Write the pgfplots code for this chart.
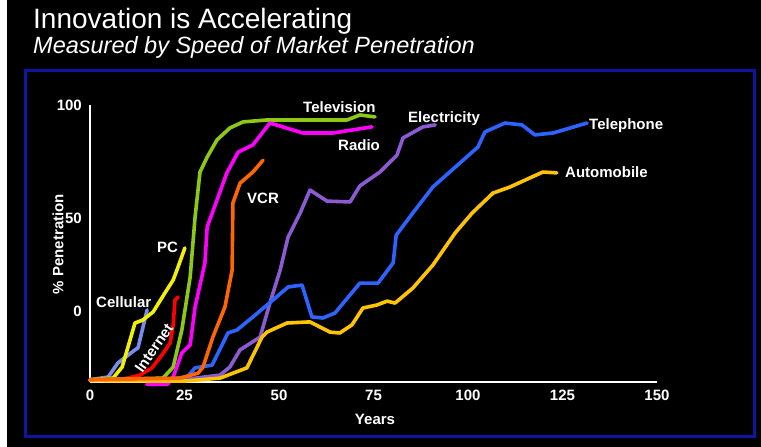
\documentclass[border=0pt]{standalone}
\usepackage{fontspec}
\setmainfont{Liberation Sans}
\usepackage{pgfplots}
\pgfplotsset{compat=1.18}

\definecolor{boxblue}{RGB}{12,22,160}
\definecolor{cCell}{RGB}{120,140,240}
\definecolor{cPC}{RGB}{240,240,0}
\definecolor{cNet}{RGB}{255,0,0}
\definecolor{cTV}{RGB}{140,200,20}
\definecolor{cRadio}{RGB}{255,0,255}
\definecolor{cVCR}{RGB}{255,102,0}
\definecolor{cElec}{RGB}{140,90,210}
\definecolor{cTel}{RGB}{45,100,255}
\definecolor{cAuto}{RGB}{255,195,0}

\begin{document}
\begin{tikzpicture}[x=1pt,y=1pt]
% page background and frame
\fill[black] (0,0) rectangle (761,-447);
\path[use as bounding box] (0,0) rectangle (761,-447);
\fill[white] (0,0) rectangle (7,-447);
\draw[boxblue, line width=3pt] (25,-70.5) rectangle (754,-436);

% titles
\node[anchor=base west, text=white, inner sep=0pt, font=\fontsize{28}{28}\selectfont]
  at (33,-28) {Innovation is Accelerating};
\node[anchor=base west, text=white, inner sep=0pt, font=\itshape\fontsize{23.5}{23.5}\selectfont]
  at (33,-53) {Measured by Speed of Market Penetration};

\begin{axis}[
  at={(90pt,-382pt)}, anchor=south west,
  scale only axis, width=567pt, height=277pt,
  xmin=0, xmax=150, ymin=0, ymax=100,
  axis x line=bottom, axis y line=left,
  axis line style={white, line width=1.5pt, -},
  major tick length=0pt, tick style={draw=none},
  xtick={0,25,50,75,100,125,150},
  xticklabels={0,25,50,75,100,125,150},
  ytick={25.6,59.2,100},
  yticklabels={0,50,100},
  xticklabel style={text=white, font=\bfseries\fontsize{15}{15}\selectfont,
    anchor=north, inner sep=0pt, yshift=-8pt},
  yticklabel style={text=white, font=\bfseries\fontsize{15}{15}\selectfont,
    anchor=east, inner sep=0pt, xshift=-8pt},
  clip=false,
  every axis plot/.append style={line width=3.6pt, line join=round, line cap=round, mark=none},
]
% Cellular
\addplot[cCell] coordinates {(0,0.8) (4.8,1.8) (7.4,6.9) (11.9,11.6) (12.7,12.3) (15.1,26.0)};
% PC
\addplot[cPC] coordinates {(0,0.8) (6.1,1.4) (8.5,5.4) (10.6,15.2) (11.9,21.3) (14.0,22.4)
  (16.7,25.3) (19.8,32.1) (22.0,36.8) (23.0,40.4) (25.1,48.4)};
% Internet
\addplot[cNet] coordinates {(0,0.8) (9.3,1.2) (13.2,2.5) (16.4,5.1) (19.0,9.7) (21.2,14.1)
  (22.0,20.6) (22.5,29.6) (23.3,30.7)};
% Television
\addplot[cTV] coordinates {(0,0.8) (19.3,1.4) (22.0,5.4) (24.3,18.8) (26.5,37.9) (27.8,59.6)
  (29.1,75.8) (31.0,81.2) (33.6,87.4) (37.0,91.7) (40.5,93.9) (46.8,94.6) (68.0,94.6)
  (71.4,96.4) (75.4,95.7)};
% Radio
\addplot[cRadio] coordinates {(15,-0.8) (20.5,-0.8) (22.0,1.8) (24.3,10.5) (26.5,13.4)
  (27.8,27.1) (30.4,43.0) (31.0,56.0) (33.6,65.7) (36.2,75.5) (39.2,83.0) (43.1,85.6)
  (47.6,93.5) (56.3,89.9) (64.3,89.9) (74.6,92.1)};
% Electricity
\addplot[cElec] coordinates {(0,0.7) (23.8,0.7) (34.4,2.5) (37.0,5.4) (39.7,11.6) (45.0,16.2)
  (47.6,28.5) (50.3,40.4) (52.4,52.3) (55.6,61.0) (58.2,69.3) (62.7,65.3) (68.8,65.0)
  (71.4,70.8) (76.7,75.8) (81.2,81.9) (82.8,88.1) (88.1,92.1) (91.3,92.8)};
% Telephone
\addplot[cTel] coordinates {(0,0.7) (20,1.0) (25.7,1.8) (27.8,5.1) (32.3,6.1) (36.5,17.7)
  (38.9,18.8) (43.1,23.5) (48.4,29.6) (52.4,34.3) (56.1,35.0) (58.7,23.5) (61.6,23.1)
  (64.8,24.9) (71.4,35.7) (76.2,35.7) (80.2,43.0) (81.0,53.0) (85.4,61.0) (90.7,70.4)
  (102.6,84.8) (104.5,90.3) (109.8,93.5) (114.3,92.8) (117.7,89.2) (122.5,89.9) (131.5,93.5)};
% Automobile
\addplot[cAuto] coordinates {(0,0.5) (24.6,0.3) (34.4,1.4) (41.5,5.1) (45.5,16.2) (46.8,18.0)
  (52.1,21.3) (58.2,21.7) (63.5,18.0) (66.1,17.7) (69.3,20.6) (72.2,26.7) (75.9,27.8)
  (78.6,29.2) (80.7,28.5) (85.4,33.9) (90.7,42.2) (96.6,53.8) (101.1,61.0) (106.6,68.2)
  (111.1,70.4) (119.8,75.8) (123.5,75.5)};
% VCR
\addplot[cVCR] coordinates {(0,0.8) (23.8,1.4) (28.6,3.2) (29.9,5.4) (32.5,16.2) (35.7,27.1)
  (37.6,40.4) (37.8,64.6) (39.7,71.8) (43.1,75.8) (45.8,80.1)};
\end{axis}

% axis titles
\node[text=white, font=\bfseries\fontsize{15}{15}\selectfont] at (375,-419) {Years};
\node[text=white, font=\bfseries\fontsize{15}{15}\selectfont, rotate=90] at (58,-244) {\% Penetration};

% series names
\begin{scope}[every node/.style={text=white, inner sep=0pt, font=\bfseries\fontsize{15}{15}\selectfont}]
\node[anchor=base west] at (303,-112) {Television};
\node[anchor=base west] at (338,-150) {Radio};
\node[anchor=base west] at (247,-203) {VCR};
\node[anchor=base west] at (408,-122.7) {Electricity};
\node[anchor=base west] at (589,-129.3) {Telephone};
\node[anchor=base west] at (565,-177.3) {Automobile};
\node[anchor=base west] at (157,-252) {PC};
\node[anchor=base west] at (96,-307) {Cellular};
\node[rotate=55] at (154,-348) {Internet};
\end{scope}
\end{tikzpicture}
\end{document}
